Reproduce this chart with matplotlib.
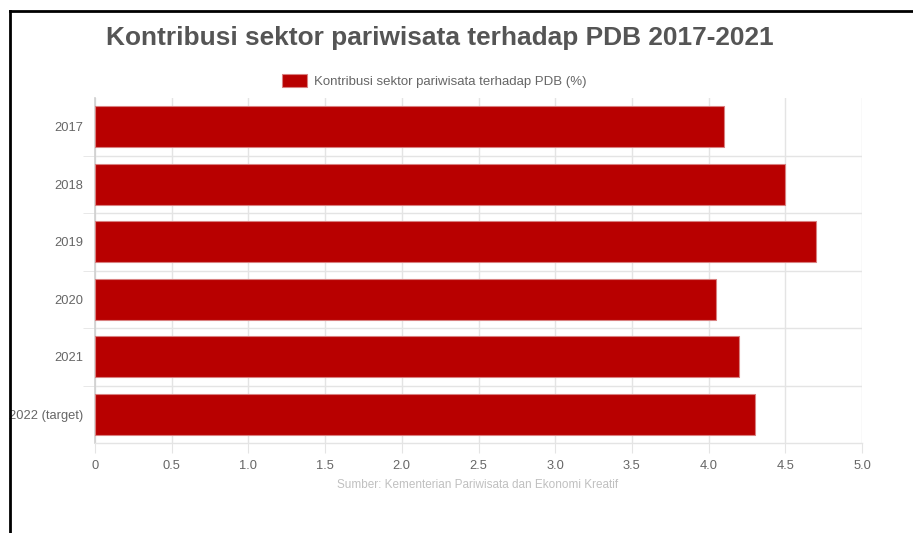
import matplotlib
matplotlib.use("Agg")
import matplotlib.pyplot as plt
from matplotlib.lines import Line2D
import numpy as np

plt.rcParams['font.family'] = ['Liberation Sans', 'DejaVu Sans']

categories = ["2017", "2018", "2019", "2020", "2021", "2022 (target)"]
values = [4.1, 4.5, 4.7, 4.05, 4.2, 4.3]
x_ticks = [0, 0.5, 1.0, 1.5, 2.0, 2.5, 3.0, 3.5, 4.0, 4.5, 5.0]
x_tick_labels = ["0", "0.5", "1.0", "1.5", "2.0", "2.5", "3.0", "3.5", "4.0", "4.5", "5.0"]
title = "Kontribusi sektor pariwisata terhadap PDB 2017-2021"
series_name = "Kontribusi sektor pariwisata terhadap PDB (%)"
source = "Sumber: Kementerian Pariwisata dan Ekonomi Kreatif"

W, H = 913, 533
fig = plt.figure(figsize=(W / 100, H / 100), dpi=100)
fig.patch.set_facecolor("white")

ax = fig.add_axes([95 / W, 1 - 443 / H, (862 - 95) / W, (443 - 98) / H])
y = np.arange(len(categories))
bar_color = "#b80000"
ax.barh(y, values, height=0.72, color=bar_color, edgecolor="#d98080",
        linewidth=0.8, zorder=3, label=series_name)
ax.set_ylim(len(categories) - 0.5, -0.5)
ax.set_xlim(0, 5.0)

ax.set_xticks(x_ticks)
ax.set_xticklabels(x_tick_labels)
ax.set_yticks(y)
ax.set_yticklabels(categories)
ax.set_yticks(np.arange(len(categories) - 1) + 0.5, minor=True)

grid_c = "#e4e4e4"
lab_c = "#666666"
ax.grid(axis="x", which="major", color=grid_c, linewidth=1, zorder=0)
ax.grid(axis="y", which="minor", color=grid_c, linewidth=1, zorder=0)
ax.tick_params(axis="x", which="major", length=7, color=grid_c, labelsize=9.3,
               labelcolor=lab_c, pad=5)
ax.tick_params(axis="y", which="major", length=0, labelsize=9.3,
               labelcolor=lab_c, pad=8.5)
ax.tick_params(axis="y", which="minor", length=9, color=grid_c)

for s in ["top", "right"]:
    ax.spines[s].set_visible(False)
ax.spines["left"].set_color("#cfcfcf")
ax.spines["left"].set_linewidth(1.2)
ax.spines["bottom"].set_color(grid_c)
ax.spines["bottom"].set_linewidth(1)

# title
fig.text(440 / W, 1 - 38 / H, title, ha="center", va="center",
         fontsize=18.9, fontweight="bold", color="#555555")

# legend
leg = fig.legend(loc="center", bbox_to_anchor=(434 / W, 1 - 81 / H),
                 frameon=False, fontsize=9.5, handlelength=1.9,
                 handleheight=1.2, handletextpad=0.5, borderpad=0)
for t in leg.get_texts():
    t.set_color(lab_c)

# source
fig.text(478 / W, 1 - 485 / H, source, ha="center", va="center",
         fontsize=8.5, color="#c0c0c0")

# screenshot frame lines
fig.add_artist(Line2D([10 / W, 10 / W], [0, 1 - 11 / H], transform=fig.transFigure,
                      color="black", linewidth=2))
fig.add_artist(Line2D([10 / W, 1], [1 - 11 / H, 1 - 11 / H], transform=fig.transFigure,
                      color="black", linewidth=2))

fig.savefig("out.png", dpi=100)
